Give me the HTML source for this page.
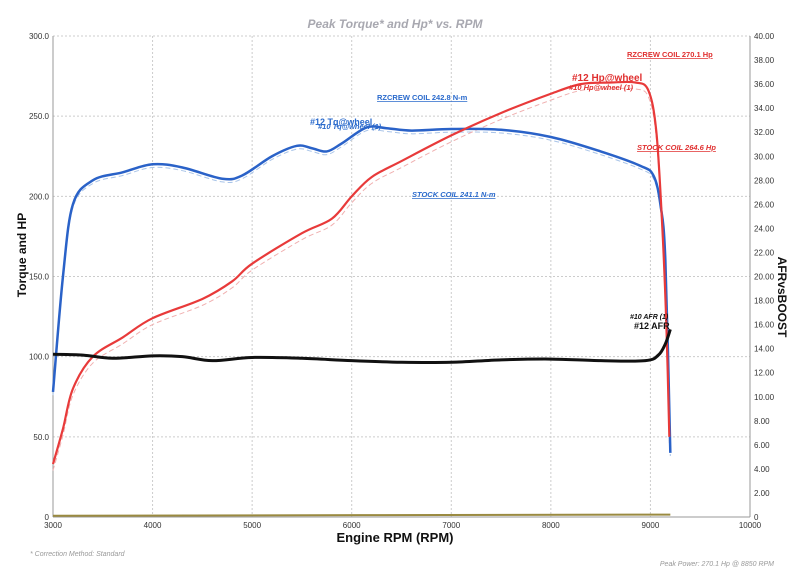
<!DOCTYPE html>
<html><head><meta charset="utf-8"><style>
body{margin:0;background:#fff;width:800px;height:577px;overflow:hidden;font-family:"Liberation Sans",sans-serif}
</style></head><body>
<svg id="s" width="800" height="577" viewBox="0 0 800 577" xmlns="http://www.w3.org/2000/svg" font-family="Liberation Sans, sans-serif">
<text x="395" y="28" font-size="12" font-style="italic" font-weight="bold" fill="#a8a8b0" text-anchor="middle">Peak Torque* and Hp* vs. RPM</text>
<g id="grid"></g>
<line x1="53" y1="36" x2="53" y2="517" stroke="#999" stroke-width="1"/>
<line x1="750" y1="36" x2="750" y2="517" stroke="#999" stroke-width="1"/>
<line x1="53" y1="517" x2="750" y2="517" stroke="#999" stroke-width="1"/>
<g id="ticks" font-size="8" fill="#333"></g>
<g id="series"></g>
<text x="395" y="542" font-size="13" font-weight="bold" fill="#111" text-anchor="middle">Engine RPM (RPM)</text>
<text x="26" y="255" font-size="12" font-weight="bold" fill="#111" text-anchor="middle" transform="rotate(-90 26 255)">Torque and HP</text>
<text x="778" y="297" font-size="12" font-weight="bold" fill="#111" text-anchor="middle" transform="rotate(90 778 297)">AFRvsBOOST</text>
<text x="30" y="556" font-size="7" font-style="italic" fill="#999">* Correction Method: Standard</text>
<text x="774" y="566" font-size="7" font-style="italic" fill="#999" text-anchor="end">Peak Power: 270.1 Hp @ 8850 RPM</text>
<text x="377" y="100" font-size="7.5" font-weight="bold" fill="#2a6acc" text-decoration="underline">RZCREW COIL 242.8 N-m</text>
<text x="412" y="197" font-size="7.5" font-weight="bold" font-style="italic" fill="#2a6acc" text-decoration="underline">STOCK COIL 241.1 N-m</text>
<text x="310" y="125" font-size="9" font-weight="bold" fill="#2a6acc">#12 Tq@wheel</text>
<text x="318" y="129" font-size="7.5" font-weight="bold" font-style="italic" fill="#2a6acc">#10 Tq@wheel (1)</text>
<text x="627" y="57" font-size="7.5" font-weight="bold" fill="#e03030" text-decoration="underline">RZCREW COIL 270.1 Hp</text>
<text x="637" y="150" font-size="7.5" font-weight="bold" font-style="italic" fill="#e03030" text-decoration="underline">STOCK COIL 264.6 Hp</text>
<text x="572" y="81" font-size="10" font-weight="bold" fill="#e03030">#12 Hp@wheel</text>
<text x="569" y="90" font-size="7.5" font-weight="bold" font-style="italic" fill="#e03030">#10 Hp@wheel (1)</text>
<text x="630" y="319" font-size="7" font-weight="bold" font-style="italic" fill="#111">#10 AFR (1)</text>
<text x="634" y="329" font-size="9" font-weight="bold" fill="#111">#12 AFR</text>
</svg>
<script>
const X=r=>53+(r-3000)*0.09957, Y=v=>517-v*1.6033;
const NS="http://www.w3.org/2000/svg";
function el(p,t,a,txt){const e=document.createElementNS(NS,t);for(const k in a)e.setAttribute(k,a[k]);if(txt!=null)e.textContent=txt;document.getElementById(p).appendChild(e);return e;}
for(let r=4000;r<=9000;r+=1000)el("grid","line",{x1:X(r),x2:X(r),y1:36,y2:517,stroke:"#ccc","stroke-dasharray":"2,2"});
for(let v=50;v<=300;v+=50)el("grid","line",{x1:53,x2:750,y1:Y(v),y2:Y(v),stroke:"#ccc","stroke-dasharray":"2,2"});
for(let r=3000;r<=10000;r+=1000)el("ticks","text",{x:X(r),y:528,"text-anchor":"middle"},String(r));
for(let v=0;v<=300;v+=50)el("ticks","text",{x:49,y:Y(v)+3,"text-anchor":"end"},v==0?"0":v.toFixed(1));
for(let a=0;a<=40;a+=2)el("ticks","text",{x:754,y:517-a*12.025+3},a==0?"0":a.toFixed(2));
function path(pts,col,w,dash){
 const P=pts.map(p=>[X(p[0]),Y(p[1])]);let d="M"+P[0];
 for(let i=0;i<P.length-1;i++){const p0=P[i-1]||P[i],p1=P[i],p2=P[i+1],p3=P[i+2]||p2;
  d+=" C"+(p1[0]+(p2[0]-p0[0])/6)+","+(p1[1]+(p2[1]-p0[1])/6)+" "+(p2[0]-(p3[0]-p1[0])/6)+","+(p2[1]-(p3[1]-p1[1])/6)+" "+p2;}
 const a={d:d,fill:"none",stroke:col,"stroke-width":w,"stroke-linejoin":"round"};if(dash)a["stroke-dasharray"]=dash;el("series","path",a);}
const tq=[[3000,78],[3100,150],[3200,195],[3400,210],[3700,215],[4000,220],[4300,218],[4700,211],[4900,213],[5200,225],[5450,231.5],[5600,230],[5750,228],[5900,233],[6150,243],[6350,242.5],[6600,241],[7000,242],[7500,241.5],[8000,237],[8500,228],[8900,219],[9030,213],[9100,195],[9150,160],[9200,40]];
const hp=[[3000,33],[3100,55],[3200,80],[3400,100],[3700,112],[4000,124],[4500,136],[4800,147],[5000,158],[5500,177],[5800,186],[6000,200],[6200,212],[6500,222],[7000,238],[7500,252],[8000,264],[8300,270],[8600,271],[8850,271],[8980,266],[9060,240],[9120,180],[9160,120],[9190,50]];
const afr=[[3000,101.5],[3300,101],[3600,99],[4000,100.5],[4300,100],[4600,97.5],[5000,99.5],[5500,99],[6000,97.5],[6500,96.5],[7000,96.5],[7500,98],[8000,98.5],[8500,97.5],[8950,97.5],[9080,101],[9150,108],[9200,117]];
path(tq.map(p=>[p[0],p[1]-2]),"#a9c4e8",1,"5,3");
path(hp.map(p=>[p[0],p[1]-4]),"#f0b0b0",1,"5,3");
path([[3000,0.8],[9200,1.5]],"#9a8a40",2);
path(tq,"#2a62c8",2.5);
path(hp,"#e83a3a",2.2);
path(afr,"#111",3);
</script>
</body></html>
